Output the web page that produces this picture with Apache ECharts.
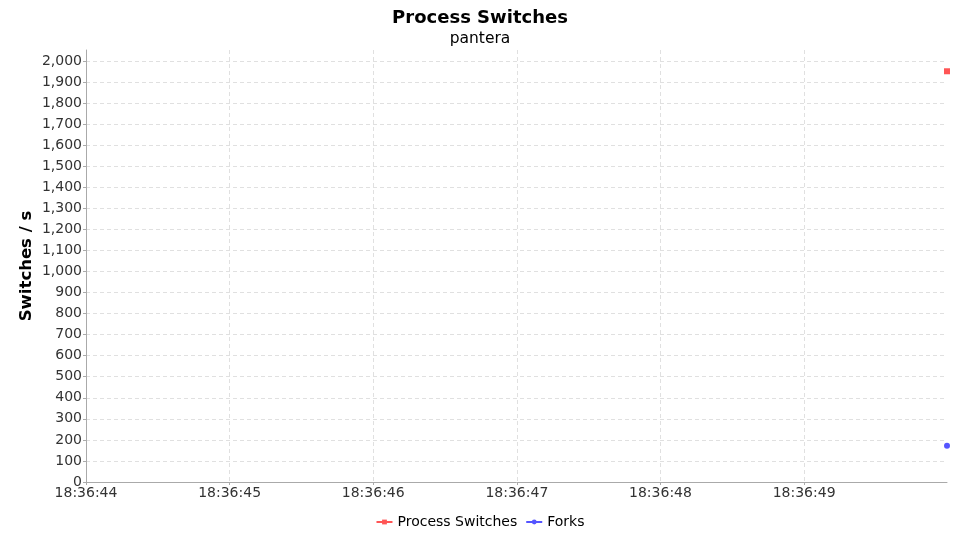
<!DOCTYPE html>
<html>
<head>
<meta charset="utf-8">
<script src="https://cdn.jsdelivr.net/npm/echarts@6/dist/echarts.min.js"></script>
<style>html,body{margin:0;padding:0;background:#fff}#c{width:960px;height:540px}</style>
</head>
<body>
<div id="c"></div>
<script>
var startTime = '18:36:44';
var endTime = '18:36:49.995';
var times = ['18:36:49.995'];
var processSwitches = [1951];
var forks = [172];
var yTicksMax = 2052;

function toMs(s) {
  var p = s.split(':');
  return Date.UTC(2020, 0, 1, +p[0], +p[1], 0) + Math.round(parseFloat(p[2]) * 1000);
}
function pad(n) { return (n < 10 ? '0' : '') + n; }
function fmtTime(v) {
  var d = new Date(v);
  return pad(d.getUTCHours()) + ':' + pad(d.getUTCMinutes()) + ':' + pad(d.getUTCSeconds());
}
var font = 'DejaVu Sans';
var chart = echarts.init(document.getElementById('c'), null, {renderer: 'canvas'});
chart.setOption({
  animation: false,
  backgroundColor: '#fff',
  title: {
    text: 'Process Switches',
    subtext: 'pantera',
    left: 'center',
    top: 4,
    itemGap: 4,
    textStyle: {fontFamily: font, fontSize: 18, fontWeight: 'bold', color: '#000'},
    subtextStyle: {fontFamily: font, fontSize: 15.5, color: '#000'}
  },
  legend: {
    bottom: 6,
    left: 'center',
    itemWidth: 16,
    itemHeight: 6,
    itemGap: 8,
    textStyle: {fontFamily: font, fontSize: 14, color: '#000'},
    data: ['Process Switches', 'Forks']
  },
  grid: {left: 86, right: 13, top: 50, bottom: 58, containLabel: false},
  xAxis: {
    type: 'value',
    min: toMs(startTime),
    max: toMs(endTime),
    interval: 1000,
    axisLine: {show: true, lineStyle: {color: '#aaa'}},
    axisTick: {show: true, length: 3, lineStyle: {color: '#aaa'}},
    axisLabel: {
      showMaxLabel: false,
      formatter: fmtTime,
      fontFamily: font, fontSize: 14, color: '#333', margin: 4
    },
    splitLine: {show: true, showMinLine: false, showMaxLine: false, lineStyle: {color: '#e0e0e0', type: [4, 3]}}
  },
  yAxis: {
    type: 'value',
    min: 0,
    max: yTicksMax,
    interval: 100,
    name: 'Switches / s',
    nameLocation: 'middle',
    nameGap: 51,
    nameMoveOverlap: false,
    nameRotate: 90,
    nameTextStyle: {fontFamily: font, fontSize: 16.5, fontWeight: 'bold', color: '#000'},
    axisLine: {show: true, lineStyle: {color: '#aaa'}},
    axisTick: {show: true, length: 3, lineStyle: {color: '#aaa'}},
    axisLabel: {
      showMaxLabel: false,
      formatter: function (v) { return v.toLocaleString('en-US'); },
      fontFamily: font, fontSize: 14, color: '#333', margin: 4
    },
    splitLine: {show: true, showMinLine: false, showMaxLine: false, lineStyle: {color: '#e0e0e0', type: [4, 3]}}
  },
  series: [
    {
      name: 'Process Switches',
      type: 'line',
      clip: true,
      symbol: 'rect',
      symbolSize: 6,
      showAllSymbol: true,
      color: '#ff5555',
      lineStyle: {width: 1},
      data: times.map(function (t, i) { return [toMs(t), processSwitches[i]]; })
    },
    {
      name: 'Forks',
      type: 'line',
      clip: true,
      symbol: 'circle',
      symbolSize: 6,
      showAllSymbol: true,
      color: '#5555ff',
      lineStyle: {width: 1},
      data: times.map(function (t, i) { return [toMs(t), forks[i]]; })
    }
  ]
});
</script>
</body>
</html>
